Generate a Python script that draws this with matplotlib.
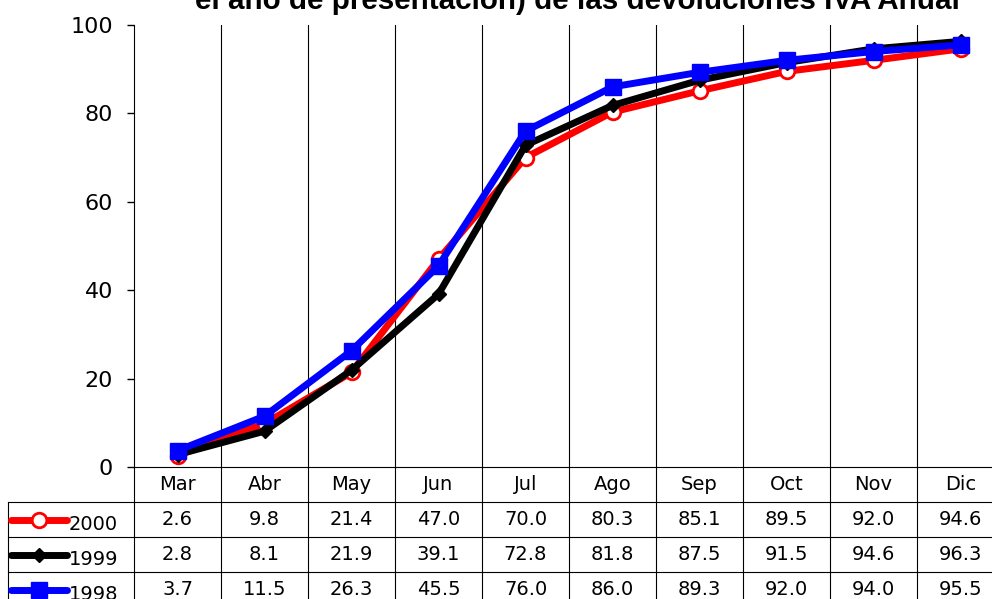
import numpy as np
import matplotlib
matplotlib.use("Agg")
import matplotlib.pyplot as plt

# Data
months = ["Mar", "Abr", "May", "Jun", "Jul", "Ago", "Sep", "Oct", "Nov", "Dic"]
series_names = ["2000", "1999", "1998"]
v2000 = [2.6, 9.8, 21.4, 47.0, 70.0, 80.3, 85.1, 89.5, 92.0, 94.6]
v1999 = [2.8, 8.1, 21.9, 39.1, 72.8, 81.8, 87.5, 91.5, 94.6, 96.3]
v1998 = [3.7, 11.5, 26.3, 45.5, 76.0, 86.0, 89.3, 92.0, 94.0, 95.5]
yticks = [0, 20, 40, 60, 80, 100]
title = "el año de presentación) de las devoluciones IVA Anual"

plt.rcParams["font.family"] = ["DejaVu Sans"]

W, H = 992, 599
fig = plt.figure(figsize=(W / 100, H / 100), dpi=100)

# pixel layout
ax_left, ax_right, ax_top, ax_bottom = 134, 1004, 25, 467
tab_left, tab_bottom = 8, 607
colw = (ax_right - ax_left) / len(months)

ax = fig.add_axes([ax_left / W, 1 - ax_bottom / H,
                   (ax_right - ax_left) / W, (ax_bottom - ax_top) / H])
x = np.arange(len(months))

styles = [
    dict(color="#ff0000", marker="o", ms=10.5, mfc="white", mec="#ff0000", mew=2),
    dict(color="#000000", marker="D", ms=7.5, mfc="#000000", mec="#000000", mew=1),
    dict(color="#0000ff", marker="s", ms=12, mfc="#0000ff", mec="#0000ff", mew=1),
]
values = [v2000, v1999, v1998]
for i, (vals, st) in enumerate(zip(values, styles)):
    ax.plot(x, vals, lw=5, solid_capstyle="round", zorder=3 + i, clip_on=False, **st)

ax.set_xlim(-0.5, len(months) - 0.5)
ax.set_ylim(0, 100)
ax.set_yticks(yticks)
ax.set_xticks(np.arange(0.5, len(months) - 0.5, 1))
ax.set_xticklabels([])
ax.tick_params(axis="x", length=0)
ax.tick_params(axis="y", direction="out", length=5, width=1, labelsize=16, pad=10,
               colors="black")
ax.grid(axis="x", color="black", lw=0.8)
ax.grid(axis="y", visible=False)
ax.spines["top"].set_visible(False)
for s in ("left", "bottom", "right"):
    ax.spines[s].set_linewidth(0.8)

# Data table underneath
tax = fig.add_axes([tab_left / W, 1 - tab_bottom / H,
                    (ax_right - tab_left) / W, (tab_bottom - ax_bottom) / H])
xl = -0.5 - (ax_left - tab_left) / colw
tax.set_xlim(xl, len(months) - 0.5)
tax.set_ylim(0, 4)
tax.axis("off")

lk = dict(color="black", lw=0.8, clip_on=False)
for yy in (0, 1, 2, 3):
    tax.plot([xl, len(months) - 0.5], [yy, yy], **lk)
tax.plot([xl, xl], [0, 3], **lk)
for k in range(len(months) + 1):
    tax.plot([k - 0.5, k - 0.5], [0, 4], **lk)

fs = 14
for i, m in enumerate(months):
    tax.text(i, 3.5, m, ha="center", va="center", fontsize=fs)

def px2x(p):
    return -0.5 + (p - ax_left) / colw

for r, (name, vals, st) in enumerate(zip(series_names, values, styles)):
    yc = 2.5 - r
    for i, v in enumerate(vals):
        tax.text(i, yc, f"{v:.1f}", ha="center", va="center", fontsize=fs)
    tax.plot([px2x(11), px2x(67)], [yc, yc], lw=5, color=st["color"],
             solid_capstyle="round", clip_on=False)
    tax.plot([px2x(39)], [yc], lw=0, clip_on=False,
             **{k: v for k, v in st.items() if k != "color"})
    tax.text(px2x(69), yc - 0.14, name, ha="left", va="center", fontsize=fs)

fig.text(577 / W, 1 - 9 / H, title, ha="center", va="baseline",
         fontsize=21.3, fontweight="bold", family=["Liberation Sans", "DejaVu Sans"])

fig.savefig("out.png", dpi=100)
